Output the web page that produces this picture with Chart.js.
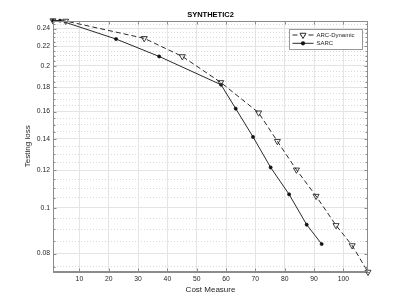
<!DOCTYPE html>
<html>
<head>
<meta charset="utf-8">
<script src="https://cdn.jsdelivr.net/npm/chart.js@4.4.1/dist/chart.umd.min.js"></script>
<style>
  html, body { margin: 0; padding: 0; background: #fff; }
  #wrap { width: 407px; height: 305px; }
  canvas { display: block; }
</style>
</head>
<body>
<div id="wrap"><canvas id="chart" width="407" height="305"></canvas></div>
<script>
// values
const arcX    = [1, 5.3, 32.1, 45.1, 58.2, 71.1, 77.5, 84.0, 90.7, 97.5, 103.0, 108.4];
const arcLoss = [0.2495, 0.249, 0.2288, 0.2094, 0.1845, 0.1591, 0.1384, 0.1204, 0.1059, 0.0918, 0.0832, 0.0731];

const sarcX    = [1, 3.4, 22.5, 37.2, 58.3, 63.3, 69.2, 75.2, 81.5, 87.5, 92.6];
const sarcLoss = [0.2495, 0.2495, 0.228, 0.2094, 0.1824, 0.1623, 0.1414, 0.1218, 0.1068, 0.0921, 0.0838];

const xTicks = [10, 20, 30, 40, 50, 60, 70, 80, 90, 100];
const yMajorTicks = [0.08, 0.1, 0.12, 0.14, 0.16, 0.18, 0.2, 0.22, 0.24];
const yTickLabels = ['0.08', '0.1', '0.12', '0.14', '0.16', '0.18', '0.2', '0.22', '0.24'];
const yMinorTicks = [0.075, 0.085, 0.09, 0.095, 0.105, 0.11, 0.115, 0.125, 0.13, 0.135,
  0.145, 0.15, 0.155, 0.165, 0.17, 0.175, 0.185, 0.19, 0.195, 0.205, 0.21, 0.215,
  0.225, 0.23, 0.235, 0.245];

const FONT = "'Liberation Sans', Arial, Helvetica, sans-serif";
const AXIS = '#8c8c8c';

function isMajor(v) {
  return yMajorTicks.some(m => Math.abs(m - v) < 1e-6);
}

function pts(xs, ys) {
  return xs.map((x, i) => ({x: x, y: ys[i]}));
}

//box, inward ticks and the legend, matlab style
const matlabBox = {
  id: 'matlabBox',
  afterDraw(chart) {
    const ctx = chart.ctx;
    const a = chart.chartArea;
    const sx = chart.scales.x, sy = chart.scales.y;
    const L = Math.round(a.left) + 0.5, R = Math.round(a.right) - 0.5;
    const T = Math.round(a.top) + 0.5, B = Math.round(a.bottom) - 0.5;
    ctx.save();
    ctx.strokeStyle = AXIS;
    ctx.lineWidth = 1;
    ctx.beginPath();
    xTicks.forEach(v => {
      const px = Math.round(sx.getPixelForValue(v)) + 0.5;
      ctx.moveTo(px, B); ctx.lineTo(px, B - 3);
      ctx.moveTo(px, T); ctx.lineTo(px, T + 3);
    });
    yMajorTicks.concat(yMinorTicks).forEach(v => {
      const py = Math.round(sy.getPixelForValue(v)) + 0.5;
      const len = isMajor(v) ? 3 : 2;
      ctx.moveTo(L, py); ctx.lineTo(L + len, py);
      ctx.moveTo(R, py); ctx.lineTo(R - len, py);
    });
    ctx.stroke();
    ctx.strokeRect(L, T, R - L, B - T);

    // legend
    const lx = 289.5, ly = 29.5, lw = 73, lh = 20;
    ctx.fillStyle = '#fff';
    ctx.fillRect(lx, ly, lw, lh);
    ctx.strokeStyle = '#999';
    ctx.strokeRect(lx, ly, lw, lh);
    chart.data.datasets.forEach((ds, i) => {
      const yy = ly + 5.5 + i * 8.3;
      ctx.strokeStyle = ds.borderColor;
      ctx.lineWidth = 1;
      ctx.setLineDash(ds.borderDash || []);
      ctx.beginPath();
      ctx.moveTo(lx + 3, yy); ctx.lineTo(lx + 24, yy);
      ctx.stroke();
      ctx.setLineDash([]);
      const cx = lx + 13.5;
      ctx.beginPath();
      if (ds.pointStyle === 'triangle') {
        const r = ds.pointRadius;
        ctx.moveTo(cx - r * 0.866, yy - r * 0.5);
        ctx.lineTo(cx + r * 0.866, yy - r * 0.5);
        ctx.lineTo(cx, yy + r);
        ctx.closePath();
        ctx.fillStyle = '#fff';
        ctx.fill();
        ctx.stroke();
      } else {
        ctx.arc(cx, yy, ds.pointRadius + 0.5, 0, Math.PI * 2);
        ctx.fillStyle = ds.pointBackgroundColor;
        ctx.fill();
      }
      ctx.fillStyle = '#262626';
      ctx.font = '6px ' + FONT;
      ctx.textBaseline = 'middle';
      ctx.fillText(ds.label, lx + 27, yy);
    });
    ctx.restore();
  }
};

const ctx = document.getElementById('chart').getContext('2d');

var chart = new Chart(ctx, {
  type: 'line',
  data: {
    datasets: [{
      label: 'ARC-Dynamic',
      data: pts(arcX, arcLoss),
      borderColor: '#2a2a2a',
      borderWidth: 1,
      borderDash: [5, 3],
      pointStyle: 'triangle',
      rotation: 180,
      pointRadius: 3.5,
      pointBorderWidth: 0.9,
      pointBorderColor: '#2a2a2a',
      pointBackgroundColor: 'rgba(0,0,0,0)',
      fill: false,
      tension: 0,
      clip: false
    }, {
      label: 'SARC',
      data: pts(sarcX, sarcLoss),
      borderColor: '#2a2a2a',
      borderWidth: 1,
      pointStyle: 'circle',
      pointRadius: 1.6,
      pointBorderWidth: 0.6,
      pointBorderColor: '#111',
      pointBackgroundColor: '#111',
      fill: false,
      tension: 0,
      clip: false
    }]
  },
  options: {
    responsive: false,
    animation: false,
    devicePixelRatio: 1,
    layout: { padding: { left: 0, right: 39, top: 0, bottom: 0 } },
    plugins: {
      legend: { display: false },
      tooltip: { enabled: false },
      title: {
        display: true,
        text: 'SYNTHETIC2',
        fullSize: false,
        color: '#000',
        font: { family: FONT, size: 7.5, weight: 'bold' },
        padding: { top: 10, bottom: 1.5 }
      }
    },
    scales: {
      x: {
        type: 'linear',
        min: 1,
        max: 108.4,
        afterBuildTicks: s => { s.ticks = xTicks.map(v => ({value: v})); },
        afterFit: s => { s.height = 33; },
        ticks: {
          autoSkip: false, maxRotation: 0, padding: 3,
          color: '#262626', font: { family: FONT, size: 6.8 },
          callback: v => String(v)
        },
        grid: { color: '#e4e4e4', drawTicks: false },
        border: { color: AXIS },
        title: {
          display: true, text: 'Cost Measure', color: '#262626',
          font: { family: FONT, size: 8 },
          padding: { top: 0, bottom: 10 }
        }
      },
      y: {
        type: 'logarithmic',
        min: 0.0731,
        max: 0.2496,
        afterBuildTicks: s => {
          s.ticks = yMajorTicks.concat(yMinorTicks).sort((p, q) => p - q).map(v => ({value: v}));
        },
        afterFit: s => { s.width = 53; },
        ticks: {
          autoSkip: false, padding: 3,
          color: '#262626', font: { family: FONT, size: 6.8 },
          callback: v => {
            const k = yMajorTicks.findIndex(m => Math.abs(m - v) < 1e-6);
            return k < 0 ? '' : yTickLabels[k];
          }
        },
        grid: {
          drawTicks: false,
          color: c => (c.tick && !isMajor(c.tick.value)) ? '#d9d9d9' : '#e4e4e4'
        },
        border: {
          color: AXIS,
          dash: c => (c.tick && !isMajor(c.tick.value)) ? [1, 2] : []
        },
        title: {
          display: true, text: 'Testing loss', color: '#262626',
          font: { family: FONT, size: 8 },
          padding: { top: 23, bottom: 0 }
        }
      }
    }
  },
  plugins: [matlabBox]
});
</script>
</body>
</html>
